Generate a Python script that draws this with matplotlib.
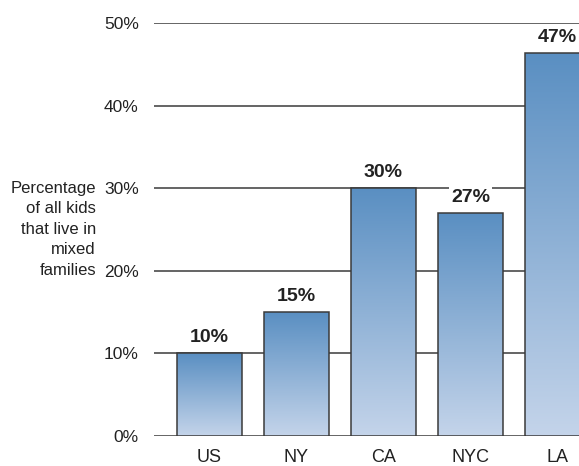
import matplotlib
matplotlib.use("Agg")
import matplotlib.pyplot as plt
import numpy as np
from matplotlib.colors import LinearSegmentedColormap

categories = ["US", "NY", "CA", "NYC", "LA"]
values = [10, 15, 30, 27, 46.4]
value_labels = ["10%", "15%", "30%", "27%", "47%"]
y_ticks = [0, 10, 20, 30, 40, 50]
y_tick_labels = ["0%", "10%", "20%", "30%", "40%", "50%"]
y_title = "Percentage\nof all kids\nthat live in\nmixed\nfamilies"

plt.rcParams["font.family"] = ["Liberation Sans", "DejaVu Sans"]

W, H = 579, 466
fig = plt.figure(figsize=(W / 100, H / 100), dpi=100)
ax = fig.add_axes([154 / W, 30 / H, 1 - 154 / W, 412.7 / H])

bar_cmap = LinearSegmentedColormap.from_list("bar", ["#c4d4ea", "#5a8fc2"])
x = np.arange(len(categories))
width = 0.736

for ytick in y_ticks:
    ax.axhline(ytick, color="#3a3a3a", lw=1.1, zorder=1)

bars = ax.bar(x, values, width=width, facecolor="none", edgecolor="#3a3a3a",
              linewidth=1.1, zorder=3)
# vertical gradient inside each bar, dark at the top
grad = np.linspace(0, 1, 256).reshape(-1, 1)
for rect in bars:
    x0, w, h = rect.get_x(), rect.get_width(), rect.get_height()
    im = ax.imshow(grad, cmap=bar_cmap, origin="lower", aspect="auto",
                   extent=[x0, x0 + w, 0, h], zorder=2)
    im.set_clip_path(rect)

for xi, v, lab in zip(x, values, value_labels):
    ax.text(xi, v + 0.9, lab, ha="center", va="bottom", fontsize=14,
            fontweight="bold", color="#222222", zorder=4,
            bbox=dict(facecolor="white", edgecolor="none", pad=1.5))

ax.set_xlim(-0.638, 4.247)
ax.set_ylim(0, 50)
ax.set_yticks(y_ticks)
ax.set_yticklabels(y_tick_labels, fontsize=12.5, color="#222222")
ax.set_xticks(x)
ax.set_xticklabels(categories, fontsize=13, color="#222222")
ax.tick_params(axis="both", length=0)
ax.tick_params(axis="y", pad=11)
ax.tick_params(axis="x", pad=9)
for s in ax.spines.values():
    s.set_visible(False)

fig.text(96 / W, 1 - 181 / H, y_title, ha="right", va="top", fontsize=12,
         color="#222222", linespacing=1.45)

fig.savefig("out.png", dpi=100)
